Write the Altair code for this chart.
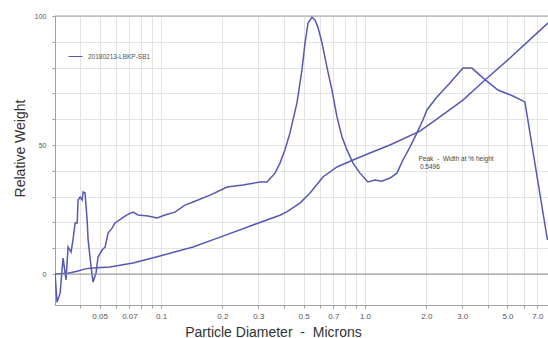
import altair as alt
import pandas as pd

SAMPLE = "20180213-LBKP-SB1"

dist_x = [0.0302, 0.0309, 0.0320, 0.0327, 0.0331, 0.0342, 0.0350, 0.0362, 0.0370, 0.0379,
          0.0388, 0.0392, 0.0401, 0.0410, 0.0415, 0.0424, 0.0434, 0.0439, 0.0454, 0.0464,
          0.0480, 0.0491, 0.0514, 0.0532, 0.0550, 0.0575, 0.0595, 0.0644, 0.0681, 0.0729,
          0.0771, 0.0864, 0.0956, 0.1046, 0.117, 0.131, 0.1435, 0.174, 0.211, 0.252,
          0.306, 0.331, 0.362, 0.383, 0.405, 0.429, 0.464, 0.491, 0.508, 0.526,
          0.550, 0.569, 0.588, 0.616, 0.651, 0.689, 0.729, 0.772, 0.816, 0.874,
          0.945, 1.034, 1.119, 1.211, 1.326, 1.435, 1.536, 1.662, 1.798, 1.924,
          2.013, 2.254, 2.611, 3.023, 3.345, 3.788, 4.487, 5.316, 6.085, 7.85]
dist_y = [0.4, -10.9, -7.4, 1.6, 6.2, -2.3, 10.5, 8.5, 13.2, 19.8,
          19.8, 28.7, 29.8, 28.7, 31.8, 31.4, 20.9, 13.2, 2.7, -3.1,
          0.4, 6.6, 9.3, 10.5, 15.9, 17.8, 19.8, 21.7, 22.9, 24.0,
          22.9, 22.5, 21.7, 22.9, 24.0, 26.7, 27.9, 30.6, 33.7, 34.5,
          35.7, 35.7, 39.1, 43.0, 48.1, 54.7, 66.3, 79.1, 89.5, 97.3,
          99.6, 98.4, 95.7, 89.5, 80.2, 71.3, 60.9, 53.1, 48.1, 43.0,
          39.1, 35.7, 36.4, 36.0, 37.2, 39.1, 44.2, 49.2, 54.7, 59.7,
          63.6, 68.6, 74.0, 79.8, 79.8, 76.0, 71.3, 69.0, 66.7, 13.2]

cum_x = [0.0302, 0.0350, 0.0392, 0.0424, 0.0464, 0.0562, 0.0729, 0.0989, 0.1435, 0.201,
         0.2825, 0.383, 0.415, 0.480, 0.538, 0.622, 0.729, 0.874, 1.058, 1.326,
         1.860, 2.331, 3.023, 3.875, 5.139, 6.660, 7.89]
cum_y = [0.0, 0.3, 1.2, 2.0, 2.3, 2.7, 4.3, 7.0, 10.5, 14.7,
         19.0, 22.8, 24.2, 27.5, 31.4, 37.6, 41.5, 44.2, 46.9, 50.0,
         55.4, 60.9, 67.4, 75.2, 83.7, 91.9, 97.3]

x_ticks = [0.04, 0.05, 0.06, 0.07, 0.08, 0.09, 0.1, 0.2, 0.3, 0.4, 0.5, 0.6, 0.7, 0.8, 0.9,
           1, 2, 3, 4, 5, 6, 7]
y_ticks = [0, 10, 20, 30, 40, 50, 60, 70, 80, 90, 100]

NB = "\u00a0"
X_TITLE = f"Particle Diameter{NB}{NB}-{NB}{NB}Microns"
ANN_1 = f"Peak{NB}{NB}-{NB}{NB}Width at % height"
ANN_2 = "0.5496"

rows = []
for i, (a, b) in enumerate(zip(dist_x, dist_y)):
    rows.append({"d": a, "w": b, "curve": "dist", "sample": SAMPLE, "o": i})
for i, (a, b) in enumerate(zip(cum_x, cum_y)):
    rows.append({"d": a, "w": b, "curve": "cum", "sample": SAMPLE, "o": i})
df = pd.DataFrame(rows)

LINE = "#5558b5"

xscale = alt.Scale(type="log", domain=[0.0302, 7.9], nice=False)
yscale = alt.Scale(domain=[-12, 100], nice=False, zero=False)

label_expr = ("indexof([0.05,0.07,0.1,0.2,0.3,0.5,0.7], datum.value) >= 0 ? format(datum.value, '.2~f') : "
              "(indexof([1,2,3,5,7], datum.value) >= 0 ? format(datum.value, '.1f') : '')")

x_axis = alt.Axis(values=x_ticks, labelExpr=label_expr, grid=True, labelOverlap=False,
                  gridColor="#e3e3e3", domainColor="#a0a0a0", tickColor="#a0a0a0",
                  tickSize=3, labelFontSize=8, labelColor="#555555", labelPadding=4,
                  labelFont="Liberation Sans",
                  title=X_TITLE, titleFontSize=14,
                  titleFont="Liberation Sans", titleFontWeight="normal",
                  titleColor="#333333", titleX=218, titleY=27,
                  titleBaseline="middle", titleAnchor="middle")
y_axis = alt.Axis(values=y_ticks, labelOverlap=False,
                  labelExpr="(datum.value == 0 || datum.value == 50 || datum.value == 100) ? format(datum.value, 'd') : ''",
                  grid=True, gridColor="#e3e3e3", domainColor="#a0a0a0",
                  tickColor="#a0a0a0", tickSize=3, labelFontSize=7,
                  labelColor="#555555", labelPadding=6, labelFont="Liberation Sans",
                  title="Relative Weight", titleFontSize=14,
                  titleFont="Liberation Sans", titleFontWeight="normal",
                  titleColor="#333333", titleX=-35, titleY=132,
                  titleBaseline="middle", titleAnchor="middle")

X = alt.X("d:Q", scale=xscale, axis=x_axis)
Y = alt.Y("w:Q", scale=yscale, axis=y_axis)

lines = alt.Chart(df).mark_line(strokeWidth=1.5, clip=True).encode(
    x=X,
    y=Y,
    detail="curve:N",
    order="o:Q",
    color=alt.Color("sample:N", scale=alt.Scale(range=[LINE]),
                    legend=alt.Legend(orient="none", legendX=13, legendY=33, title=None,
                                      symbolType="stroke", symbolSize=196,
                                      symbolStrokeWidth=1, labelFontSize=6.5,
                                      labelColor="#555555", labelFont="Liberation Sans",
                                      labelOffset=5)),
)

zero = alt.Chart(pd.DataFrame({"w": [0]})).mark_rule(color="#8c8c8c", strokeWidth=1).encode(y=Y)
top = alt.Chart(pd.DataFrame({"w": [100]})).mark_rule(color="#a0a0a0", strokeWidth=1).encode(y=Y)

ann = alt.Chart(pd.DataFrame({
    "d": [1.83, 1.86],
    "w": [44.6, 41.5],
    "t": [ANN_1, ANN_2],
})).mark_text(align="left", baseline="middle", fontSize=6.5, color="#444444",
              font="Liberation Sans").encode(x=X, y=Y, text="t:N")

chart = alt.layer(lines, zero, top, ann).properties(
    width=493, height=289,
    autosize=alt.AutoSizeParams(type="none"),
    padding={"left": 55, "top": 16, "right": 0, "bottom": 33},
).configure_view(stroke=None).configure(background="white")

chart.save("out.html", embed_options={"renderer": "svg", "actions": False})
